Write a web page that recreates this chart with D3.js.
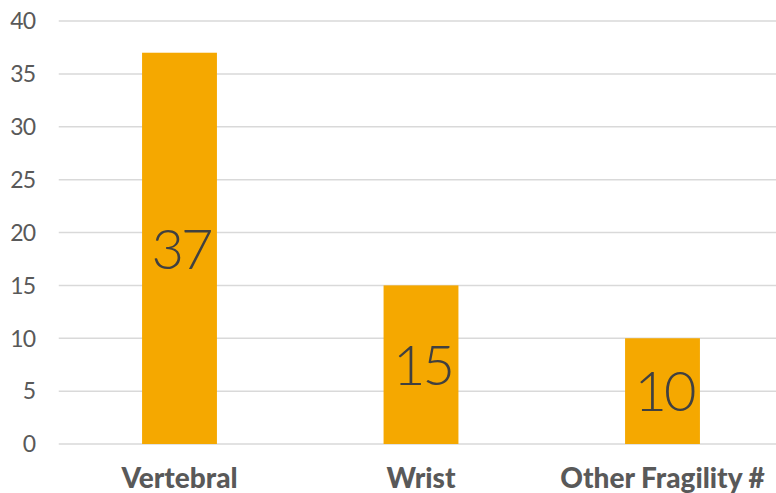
<!DOCTYPE html>
<html><head><meta charset="utf-8">
<script src="https://cdn.jsdelivr.net/npm/d3@7"></script>
<style>body{margin:0;background:#fff;}svg{display:block;}</style>
</head><body>
<svg id="c" width="776" height="493"></svg>
<script>
const categories = ["Vertebral", "Wrist", "Other Fragility #"];
const values = [37, 15, 10];
const yTicks = [0, 5, 10, 15, 20, 25, 30, 35, 40];

(function () {
const svg = d3.select("#c");
const pL = 58.75, pR = 783.25, pT = 21, pB = 444;
const x = d3.scaleBand().domain(categories).range([pL, pR]).paddingInner(0.69).paddingOuter(0.345);
const y = d3.scaleLinear().domain([0, 40]).range([pB, pT]);

svg.append("g").selectAll("line").data(yTicks).join("line")
  .attr("x1", pL).attr("x2", pR)
  .attr("y1", d => y(d)).attr("y2", d => y(d))
  .attr("stroke", "#d9d9d9").attr("stroke-width", 1.5);

svg.append("g").selectAll("text").data(yTicks).join("text")
  .attr("x", 35).attr("y", d => y(d)).attr("dy", "0.36em")
  .attr("text-anchor", "end")
  .attr("font-family", "Lato, 'Open Sans', sans-serif")
  .attr("font-size", 23).attr("letter-spacing", -1).attr("fill", "#595959")
  .text(d => d);

svg.append("g").selectAll("rect").data(values).join("rect")
  .attr("x", (d, i) => x(categories[i])).attr("width", x.bandwidth())
  .attr("y", d => y(d)).attr("height", d => y(0) - y(d))
  .attr("fill", "#F5A800");

svg.append("g").selectAll("text").data(values).join("text")
  .attr("x", (d, i) => x(categories[i]) + x.bandwidth() / 2 + 1.5)
  .attr("y", d => (y(d) + y(0)) / 2).attr("dy", "0.36em")
  .attr("text-anchor", "middle")
  .attr("font-family", "Lato, 'Open Sans', sans-serif").attr("font-weight", 300)
  .attr("font-size", 56).attr("letter-spacing", -3).attr("fill", "#404040")
  .text(d => d);

svg.append("g").selectAll("text").data(categories).join("text")
  .attr("x", d => x(d) + x.bandwidth() / 2).attr("y", 488)
  .attr("text-anchor", "middle")
  .attr("font-family", "Lato, 'Open Sans', sans-serif").attr("font-weight", 900)
  .attr("font-size", 28).attr("fill", "#595959")
  .text(d => d);
})();
</script>
</body></html>
